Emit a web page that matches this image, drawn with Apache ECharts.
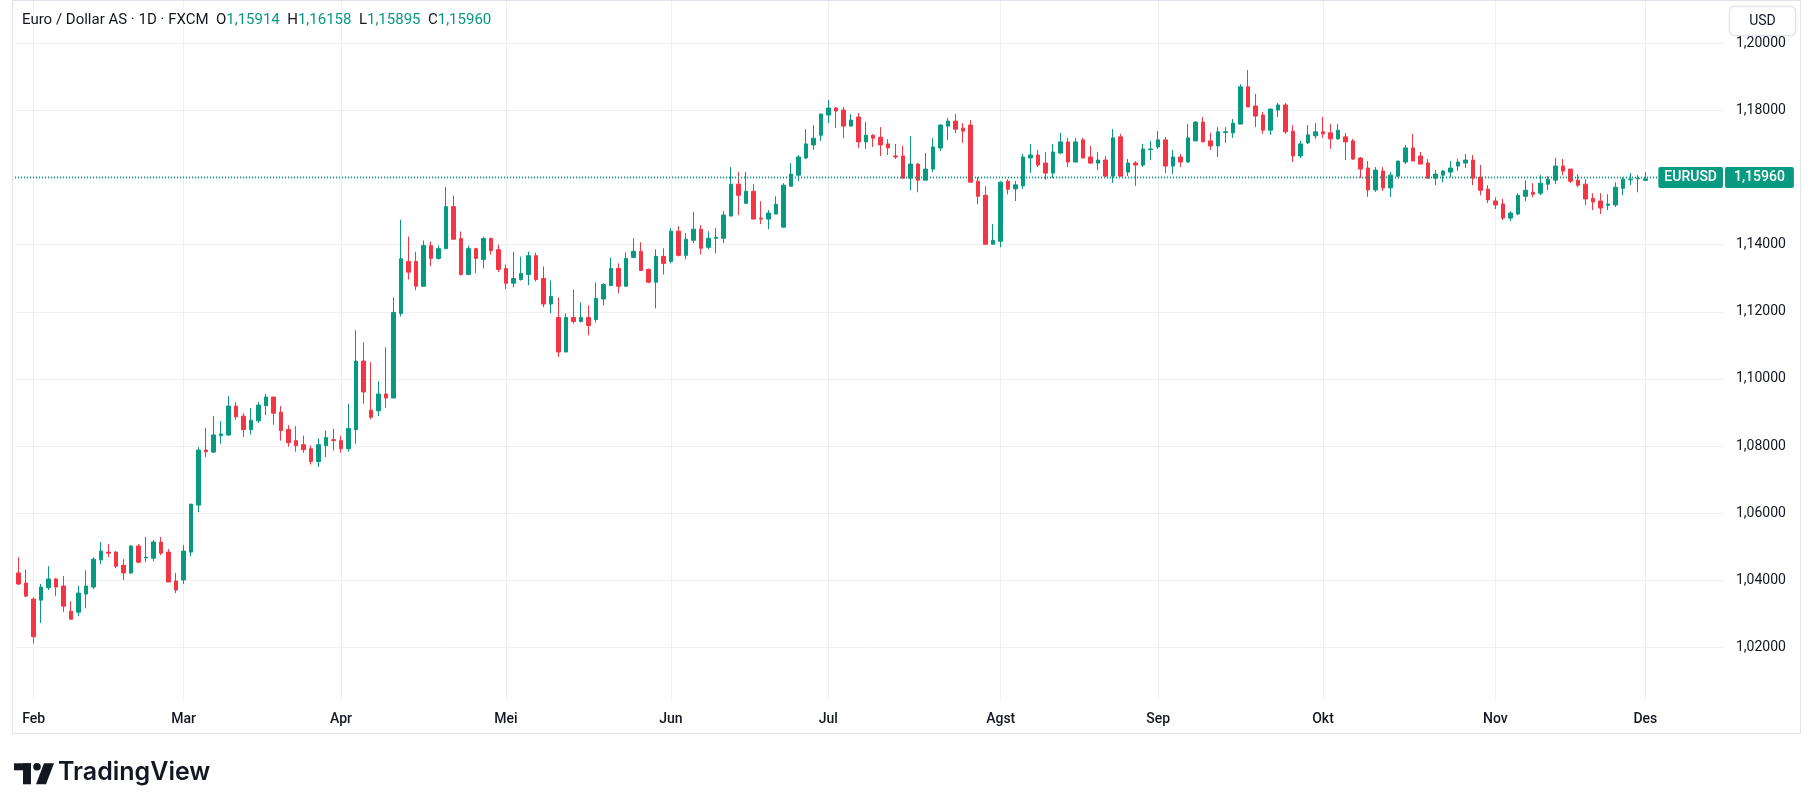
<!DOCTYPE html>
<html><head><meta charset="utf-8">
<script src="https://cdn.jsdelivr.net/npm/echarts@6/dist/echarts.min.js"></script>
<style>html,body{margin:0;padding:0;background:#fff}#c{width:1813px;height:810px}</style>
</head><body><div id="c"></div>
<script>
const opens = [
1.0422,1.0392,1.0344,1.0341,1.0378,1.0404,1.0383,1.0308,1.0305,1.0359,
1.0380,1.0461,1.0484,1.0484,1.0445,1.0422,1.0502,1.0467,1.0466,1.0514,
1.0484,1.0398,1.0401,1.0484,1.0624,1.0788,1.0782,1.0831,1.0833,1.0919,
1.0889,1.0849,1.0875,1.0920,1.0946,1.0901,1.0849,1.0816,1.0804,1.0792,
1.0754,1.0801,1.0819,1.0816,1.0792,1.0849,1.1053,1.0907,1.0905,1.0955,
1.0943,1.1195,1.1350,1.1350,1.1276,1.1397,1.1359,1.1388,1.1513,1.1418,
1.1311,1.1388,1.1356,1.1418,1.1385,1.1329,1.1285,1.1296,1.1311,1.1367,
1.1299,1.1223,1.1183,1.1080,1.1183,1.1171,1.1183,1.1177,1.1238,1.1278,
1.1329,1.1276,1.1362,1.1380,1.1326,1.1288,1.1365,1.1350,1.1440,1.1368,
1.1413,1.1446,1.1392,1.1419,1.1419,1.1485,1.1580,1.1523,1.1559,1.1479,
1.1476,1.1491,1.1452,1.1574,1.1607,1.1658,1.1697,1.1726,1.1786,1.1807,
1.1801,1.1753,1.1780,1.1706,1.1726,1.1720,1.1700,1.1664,1.1664,1.1598,
1.1640,1.1592,1.1625,1.1688,1.1753,1.1768,1.1747,1.1756,1.1589,1.1547,
1.1401,1.1410,1.1589,1.1566,1.1575,1.1658,1.1667,1.1643,1.1613,1.1673,
1.1706,1.1646,1.1712,1.1661,1.1643,1.1652,1.1604,1.1721,1.1616,1.1643,
1.1637,1.1683,1.1691,1.1712,1.1634,1.1661,1.1646,1.1709,1.1765,1.1709,
1.1694,1.1734,1.1733,1.1759,1.1870,1.1813,1.1786,1.1741,1.1801,1.1816,
1.1738,1.1664,1.1703,1.1724,1.1736,1.1733,1.1715,1.1721,1.1709,1.1658,
1.1628,1.1563,1.1619,1.1569,1.1604,1.1646,1.1688,1.1664,1.1643,1.1598,
1.1607,1.1616,1.1634,1.1643,1.1652,1.1601,1.1565,1.1530,1.1521,1.1479,
1.1491,1.1544,1.1556,1.1553,1.1580,1.1592,1.1634,1.1625,1.1592,1.1580,
1.1538,1.1530,1.1517,1.1518,1.1568,1.1593,1.1596,1.15914];
const highs = [
1.0469,1.0432,1.0349,1.0389,1.0442,1.0407,1.0413,1.0338,1.0383,1.0430,
1.0469,1.0514,1.0508,1.0487,1.0463,1.0505,1.0508,1.0529,1.0520,1.0529,
1.0493,1.0422,1.0505,1.0627,1.0797,1.0854,1.0889,1.0874,1.0949,1.0931,
1.0898,1.0913,1.0931,1.0955,1.0946,1.0919,1.0862,1.0859,1.0831,1.0801,
1.0822,1.0846,1.0852,1.0831,1.0926,1.1145,1.1109,1.1050,1.0993,1.1094,
1.1243,1.1474,1.1424,1.1379,1.1412,1.1409,1.1397,1.1572,1.1546,1.1439,
1.1397,1.1391,1.1424,1.1421,1.1400,1.1341,1.1379,1.1364,1.1379,1.1376,
1.1335,1.1293,1.1243,1.1195,1.1266,1.1228,1.1219,1.1287,1.1285,1.1361,
1.1344,1.1377,1.1419,1.1407,1.1329,1.1386,1.1389,1.1449,1.1455,1.1434,
1.1497,1.1458,1.1440,1.1449,1.1500,1.1631,1.1616,1.1616,1.1580,1.1529,
1.1503,1.1544,1.1583,1.1643,1.1667,1.1744,1.1756,1.1789,1.1831,1.1810,
1.1810,1.1789,1.1792,1.1765,1.1729,1.1750,1.1714,1.1700,1.1694,1.1723,
1.1643,1.1673,1.1717,1.1759,1.1777,1.1789,1.1762,1.1771,1.1601,1.1574,
1.1461,1.1589,1.1595,1.1590,1.1670,1.1700,1.1682,1.1676,1.1700,1.1733,
1.1718,1.1718,1.1718,1.1694,1.1676,1.1664,1.1744,1.1730,1.1655,1.1649,
1.1700,1.1709,1.1738,1.1721,1.1682,1.1670,1.1759,1.1768,1.1780,1.1733,
1.1750,1.1750,1.1774,1.1878,1.1920,1.1849,1.1795,1.1804,1.1822,1.1822,
1.1756,1.1709,1.1756,1.1762,1.1780,1.1759,1.1759,1.1733,1.1715,1.1661,
1.1649,1.1631,1.1631,1.1616,1.1649,1.1697,1.1730,1.1676,1.1655,1.1622,
1.1622,1.1649,1.1655,1.1670,1.1667,1.1637,1.1577,1.1541,1.1536,1.1500,
1.1553,1.1592,1.1583,1.1607,1.1604,1.1658,1.1655,1.1625,1.1610,1.1595,
1.1553,1.1553,1.1550,1.1586,1.1601,1.1613,1.1607,1.16158];
const lows = [
1.0386,1.0350,1.0212,1.0273,1.0371,1.0353,1.0306,1.0284,1.0294,1.0317,
1.0374,1.0448,1.0469,1.0436,1.0401,1.0419,1.0451,1.0454,1.0457,1.0475,
1.0395,1.0362,1.0389,1.0472,1.0603,1.0767,1.0779,1.0807,1.0830,1.0878,
1.0827,1.0834,1.0869,1.0892,1.0863,1.0816,1.0798,1.0783,1.0780,1.0745,
1.0738,1.0767,1.0786,1.0780,1.0783,1.0807,1.0926,1.0880,1.0889,1.0913,
1.0943,1.1186,1.1296,1.1264,1.1276,1.1336,1.1355,1.1388,1.1416,1.1308,
1.1311,1.1315,1.1329,1.1370,1.1318,1.1267,1.1273,1.1293,1.1279,1.1290,
1.1214,1.1196,1.1065,1.1080,1.1165,1.1168,1.1130,1.1168,1.1219,1.1278,
1.1255,1.1276,1.1359,1.1323,1.1285,1.1210,1.1311,1.1344,1.1365,1.1356,
1.1404,1.1371,1.1386,1.1374,1.1404,1.1485,1.1488,1.1523,1.1476,1.1461,
1.1446,1.1491,1.1452,1.1574,1.1589,1.1655,1.1682,1.1709,1.1762,1.1747,
1.1717,1.1753,1.1688,1.1685,1.1691,1.1664,1.1667,1.1655,1.1598,1.1562,
1.1556,1.1592,1.1616,1.1679,1.1711,1.1732,1.1703,1.1586,1.1520,1.1401,
1.1401,1.1392,1.1550,1.1530,1.1566,1.1613,1.1631,1.1593,1.1598,1.1670,
1.1631,1.1646,1.1658,1.1640,1.1622,1.1601,1.1584,1.1604,1.1604,1.1575,
1.1631,1.1652,1.1685,1.1613,1.1610,1.1631,1.1643,1.1709,1.1706,1.1682,
1.1661,1.1703,1.1718,1.1759,1.1810,1.1750,1.1730,1.1727,1.1780,1.1730,
1.1646,1.1658,1.1700,1.1715,1.1718,1.1685,1.1712,1.1652,1.1652,1.1598,
1.1542,1.1557,1.1560,1.1542,1.1601,1.1640,1.1649,1.1640,1.1598,1.1577,
1.1586,1.1601,1.1619,1.1628,1.1577,1.1547,1.1524,1.1506,1.1473,1.1470,
1.1488,1.1530,1.1541,1.1547,1.1562,1.1580,1.1607,1.1583,1.1571,1.1518,
1.1503,1.1491,1.1503,1.1512,1.1547,1.1577,1.1556,1.15895];
const closes = [
1.0389,1.0353,1.0232,1.0380,1.0404,1.0380,1.0323,1.0284,1.0362,1.0383,
1.0463,1.0487,1.0481,1.0442,1.0422,1.0502,1.0454,1.0469,1.0514,1.0481,
1.0395,1.0371,1.0487,1.0627,1.0788,1.0783,1.0833,1.0836,1.0919,1.0887,
1.0849,1.0877,1.0922,1.0946,1.0898,1.0846,1.0810,1.0801,1.0789,1.0754,
1.0804,1.0825,1.0816,1.0792,1.0852,1.1053,1.0961,1.0886,1.0955,1.0943,
1.1198,1.1358,1.1318,1.1276,1.1397,1.1359,1.1388,1.1513,1.1416,1.1311,
1.1388,1.1359,1.1418,1.1382,1.1326,1.1285,1.1299,1.1314,1.1367,1.1296,
1.1223,1.1246,1.1080,1.1183,1.1171,1.1183,1.1159,1.1240,1.1281,1.1329,
1.1276,1.1359,1.1380,1.1323,1.1288,1.1365,1.1344,1.1440,1.1368,1.1416,
1.1446,1.1389,1.1419,1.1422,1.1488,1.1580,1.1547,1.1559,1.1476,1.1476,
1.1494,1.1520,1.1577,1.1610,1.1661,1.1700,1.1717,1.1789,1.1807,1.1798,
1.1753,1.1771,1.1706,1.1726,1.1717,1.1697,1.1688,1.1661,1.1598,1.1640,
1.1592,1.1625,1.1691,1.1756,1.1768,1.1744,1.1738,1.1586,1.1544,1.1401,
1.1413,1.1586,1.1565,1.1578,1.1661,1.1667,1.1637,1.1613,1.1676,1.1706,
1.1646,1.1706,1.1658,1.1643,1.1652,1.1604,1.1718,1.1604,1.1643,1.1637,
1.1685,1.1685,1.1712,1.1634,1.1661,1.1646,1.1718,1.1765,1.1706,1.1694,
1.1736,1.1736,1.1762,1.1870,1.1810,1.1783,1.1741,1.1804,1.1816,1.1736,
1.1664,1.1700,1.1727,1.1736,1.1730,1.1715,1.1741,1.1706,1.1655,1.1625,
1.1563,1.1622,1.1569,1.1607,1.1649,1.1688,1.1649,1.1640,1.1598,1.1610,
1.1619,1.1628,1.1646,1.1652,1.1598,1.1562,1.1533,1.1518,1.1479,1.1494,
1.1547,1.1562,1.1550,1.1583,1.1595,1.1634,1.1619,1.1589,1.1577,1.1536,
1.1527,1.1509,1.1521,1.1571,1.1595,1.1595,1.1598,1.15960];

const tickDates = ['2025-02-03','2025-03-03','2025-04-01','2025-05-01','2025-06-02','2025-07-01','2025-08-01','2025-09-01','2025-10-01','2025-11-03','2025-12-01'];
const monthLabels = ['Feb','Mar','Apr','Mei','Jun','Jul','Agst','Sep','Okt','Nov','Des'];
const priceTicks = {min: 1.00, max: 1.20, step: 0.02};
const symbolName = 'EURUSD';
const headerTitle = 'Euro / Dollar AS · 1D · FXCM';

// trading-day categories (weekdays), with empty right margin days
const categories = [];
(function () {
  const d = new Date(Date.UTC(2025, 0, 30));
  while (categories.length < 228) {
    const wd = d.getUTCDay();
    if (wd !== 0 && wd !== 6) categories.push(d.toISOString().slice(0, 10));
    d.setUTCDate(d.getUTCDate() + 1);
  }
})();
const labelMap = {};
tickDates.forEach((t, i) => { labelMap[t] = monthLabels[i]; });

const fmt = v => Number(v).toFixed(5).replace('.', ',');
const candleData = opens.map((o, i) => [o, closes[i], lows[i], highs[i]]);
const last = opens.length - 1;
const lastClose = closes[last];

const UP = '#089981', DOWN = '#F23645', TXT = '#131722', GRID = '#f0f0f3';
const FONT = 'Roboto, "Noto Sans", "DejaVu Sans", sans-serif';

const chart = echarts.init(document.getElementById('c'), null, {renderer: 'canvas'});
chart.setOption({
  animation: false,
  backgroundColor: '#ffffff',
  textStyle: {fontFamily: FONT},
  title: {
    left: 22, top: 13, padding: 0,
    text: '{d|' + headerTitle + '}  {d|O}{g|' + fmt(opens[last]) + '}  {d|H}{g|' + fmt(highs[last]) +
          '}  {d|L}{g|' + fmt(lows[last]) + '}  {d|C}{g|' + fmt(closes[last]) + '}',
    textStyle: {
      fontSize: 15, fontWeight: 'normal', fontFamily: FONT,
      rich: {
        d: {color: TXT, fontSize: 15, fontWeight: 'normal', fontFamily: FONT},
        g: {color: UP, fontSize: 15, fontWeight: 'normal', fontFamily: FONT}
      }
    }
  },
  grid: [
    {left: 15, right: 89, top: 43.2, bottom: 95.4},
    {left: 18.75, right: 92.7, top: 1, bottom: 111}
  ],
  xAxis: [
    {gridIndex: 0, type: 'category', data: categories, boundaryGap: true, show: false},
    {
      gridIndex: 1, type: 'category', data: categories, boundaryGap: false,
      axisLine: {show: false}, axisTick: {show: false},
      axisLabel: {
        interval: (i, v) => labelMap[v] !== undefined,
        formatter: v => labelMap[v] || '',
        color: TXT, fontSize: 14, fontWeight: 500, margin: 13, fontFamily: FONT
      },
      splitLine: {show: true, interval: (i, v) => labelMap[v] !== undefined, lineStyle: {color: GRID, width: 1}}
    }
  ],
  yAxis: [
    {
      gridIndex: 0, type: 'value', position: 'right',
      min: priceTicks.min, max: priceTicks.max, interval: priceTicks.step,
      axisLine: {show: false}, axisTick: {show: false},
      axisLabel: {showMinLabel: false, formatter: fmt, color: TXT, fontSize: 14, margin: 12, fontFamily: FONT},
      splitLine: {show: true, showMinLine: false, lineStyle: {color: GRID, width: 1}}
    },
    {gridIndex: 1, type: 'value', show: false}
  ],
  series: [{
    type: 'candlestick', xAxisIndex: 0, yAxisIndex: 0,
    data: candleData, barWidth: 4,
    itemStyle: {color: UP, color0: DOWN, borderColor: UP, borderColor0: DOWN, borderWidth: 1},
    markLine: {
      silent: true, symbol: ['none', 'none'], animation: false,
      lineStyle: {color: UP, type: [1, 2], width: 1.3},
      emphasis: {disabled: true},
      data: [
        {yAxis: lastClose, label: {show: true, position: 'end', distance: 1, formatter: fmt(lastClose),
          color: '#fff', backgroundColor: UP, padding: [4, 9, 3, 9], fontSize: 14, fontWeight: 500, fontFamily: FONT, borderRadius: 2}},
        {yAxis: lastClose, label: {show: true, position: 'insideEnd', distance: 1, formatter: symbolName,
          color: '#fff', backgroundColor: UP, padding: [4, 6, 3, 6], fontSize: 14, fontWeight: 500, fontFamily: FONT, borderRadius: 2}}
      ]
    }
  }],
  graphic: [
    {type: 'rect', silent: true, z: 0, shape: {x: 12.5, y: 0.5, width: 1788, height: 733},
     style: {fill: 'none', stroke: '#e0e3eb', lineWidth: 1}},
    {type: 'group', left: 1729, top: 6, z: 100, children: [
      {type: 'rect', shape: {x: 0, y: 0, width: 66, height: 29, r: 5},
       style: {fill: '#fff', stroke: '#e0e3eb', lineWidth: 1, shadowBlur: 3, shadowColor: 'rgba(0,0,0,0.08)'}},
      {type: 'text', x: 33, y: 14.5, style: {text: 'USD', fill: TXT, fontSize: 14, fontFamily: FONT, align: 'center', verticalAlign: 'middle'}}
    ]},
    {type: 'group', left: 14, top: 763, z: 100, children: [
      {type: 'rect', shape: {x: 0, y: 1, width: 17, height: 7}, style: {fill: TXT}},
      {type: 'rect', shape: {x: 9, y: 1, width: 8, height: 21}, style: {fill: TXT}},
      {type: 'circle', shape: {cx: 23, cy: 4.5, r: 3.8}, style: {fill: TXT}},
      {type: 'polygon', shape: {points: [[30, 1], [40, 1], [32, 22], [22, 22]]}, style: {fill: TXT}}
    ]},
    {type: 'text', left: 58, top: 760, z: 100,
     style: {text: 'TradingView', fill: TXT, fontSize: 25, fontWeight: 600, fontFamily: 'Inter, Roboto, sans-serif'}}
  ]
});
</script>
</body></html>
